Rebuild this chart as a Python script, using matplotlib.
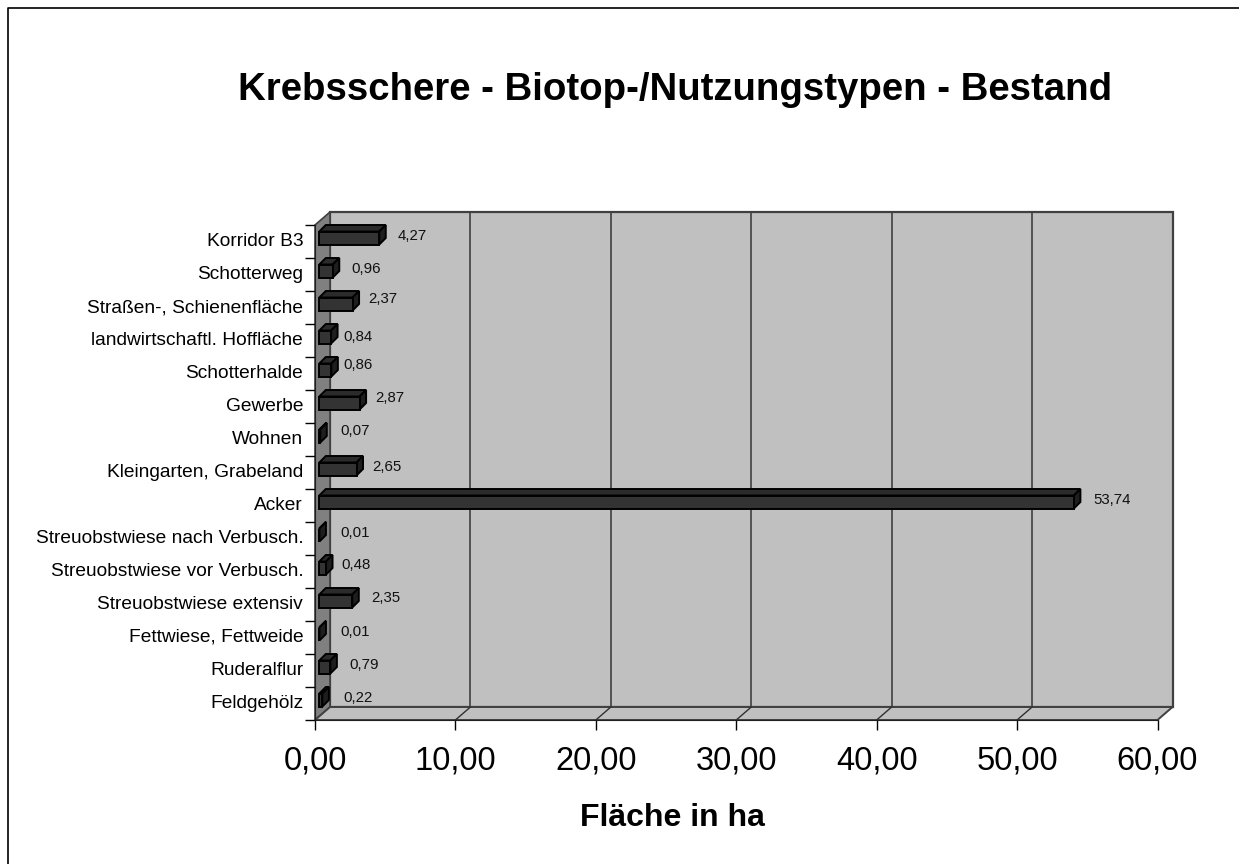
import matplotlib
matplotlib.use("Agg")
import matplotlib.pyplot as plt
import numpy as np
from matplotlib.patches import Polygon
from matplotlib.transforms import ScaledTranslation

plt.rcParams['font.family'] = ['Liberation Sans', 'DejaVu Sans']

categories = [
    "Korridor B3", "Schotterweg", "Straßen-, Schienenfläche",
    "landwirtschaftl. Hoffläche", "Schotterhalde", "Gewerbe", "Wohnen",
    "Kleingarten, Grabeland", "Acker", "Streuobstwiese nach Verbusch.",
    "Streuobstwiese vor Verbusch.", "Streuobstwiese extensiv",
    "Fettwiese, Fettweide", "Ruderalflur", "Feldgehölz",
]
flaeche = [4.27, 0.96, 2.37, 0.84, 0.86, 2.87, 0.07, 2.65, 53.74, 0.01, 0.48, 2.35, 0.01, 0.79, 0.22]
x_ticks = [0, 10, 20, 30, 40, 50, 60]

title = "Krebsschere - Biotop-/Nutzungstypen - Bestand"
x_label = "Fläche in ha"

# label nudges in pixels, the original labels sit unevenly
label_dx = [12, 12, 9, 5.5, 5.5, 9, 14, 9, 13, 14, 8.5, 12, 14, 12, 14]
label_dy = [-6.5, -6.5, -9.5, -4.5, -9.5, -9.5, -9.5, -6.5, -6.5, -6.5, -7.5, -7.5, -6.5, -6.5, -6.5]

W, H = 1239, 864
LEFT, RIGHT, TOP, BOTTOM = 315, 1157.5, 225, 720
DEPTH_X, DEPTH_Y = 15, 13
BAR_DEPTH = 6.5

fig = plt.figure(figsize=(W / 100, H / 100), dpi=100)
ax = fig.add_axes([LEFT / W, 1 - BOTTOM / H, (RIGHT - LEFT) / W, (BOTTOM - TOP) / H])
ax.set_xlim(0, 60)
ax.set_ylim(len(categories), 0)

px_x = 60 / (RIGHT - LEFT)
px_y = len(categories) / (BOTTOM - TOP)
dx_wall = DEPTH_X * px_x
dy_wall = DEPTH_Y * px_y
n = len(categories)


def add_poly(pts, face, edge='#202020', lw=1.0, z=1):
    ax.add_patch(Polygon(pts, closed=True, facecolor=face, edgecolor=edge,
                         linewidth=lw, zorder=z, clip_on=False, joinstyle='miter'))


# walls and floor
add_poly([(dx_wall, -dy_wall), (60 + dx_wall, -dy_wall), (60 + dx_wall, n - dy_wall), (dx_wall, n - dy_wall)],
         '#c0c0c0', edge='#404040', lw=1.6)
add_poly([(0, 0), (dx_wall, -dy_wall), (dx_wall, n - dy_wall), (0, n)], '#808080', edge='#404040', lw=1.2)
add_poly([(0, n), (dx_wall, n - dy_wall), (60 + dx_wall, n - dy_wall), (60, n)], '#c0c0c0', edge='#404040', lw=1.4)

# gridlines on back wall and floor
for t in x_ticks[1:-1]:
    ax.plot([t + dx_wall, t + dx_wall], [-dy_wall, n - dy_wall], color='#404040', lw=1.2, zorder=2, clip_on=False)
    ax.plot([t, t + dx_wall], [n, n - dy_wall], color='#303030', lw=1.0, zorder=2, clip_on=False)

# bars
bar_x0 = 4.3 * px_x
bar_dx = BAR_DEPTH * px_x
bar_dy = BAR_DEPTH * px_y
bar_h = 13 * px_y
for i, v in enumerate(flaeche):
    top = i + 6.5 * px_y
    bot = top + bar_h
    x1 = bar_x0 + v
    add_poly([(bar_x0, top), (bar_x0 + bar_dx, top - bar_dy), (x1 + bar_dx, top - bar_dy), (x1, top)],
             '#2b2b2b', edge='black', lw=1.4, z=3)
    add_poly([(x1, top), (x1 + bar_dx, top - bar_dy), (x1 + bar_dx, bot - bar_dy), (x1, bot)],
             '#1e1e1e', edge='black', lw=1.4, z=3)
    add_poly([(bar_x0, top), (x1, top), (x1, bot), (bar_x0, bot)], '#333333', edge='black', lw=1.4, z=4)
    ax.annotate(f"{v:.2f}".replace(".", ","), xy=(x1 + bar_dx, i + 0.5),
                xytext=(label_dx[i] * 0.72, -label_dy[i] * 0.72 - 0.7), textcoords='offset points',
                ha='left', va='center', fontsize=10.8, color='#111111', zorder=5)

# axes
for side in ['top', 'right']:
    ax.spines[side].set_visible(False)
for side in ['left', 'bottom']:
    ax.spines[side].set_color('#202020')
    ax.spines[side].set_zorder(2.5)
ax.patch.set_visible(False)

ax.set_xticks(x_ticks)
ax.set_xticklabels([f"{t:.2f}".replace(".", ",") for t in x_ticks], fontsize=23.5)
ax.tick_params(axis='x', length=7.2, width=1, color='black', pad=11)

ax.set_yticks(np.arange(n) + 0.5)
ax.set_yticklabels(categories, fontsize=13.75)
ax.set_yticks(np.arange(n + 1), minor=True)
ax.tick_params(axis='y', which='major', length=0, pad=8.5)
ax.tick_params(axis='y', which='minor', length=7.2, width=1, color='black')
nudge = ScaledTranslation(0, 2 / 100, fig.dpi_scale_trans)
for lab in ax.get_yticklabels():
    lab.set_transform(lab.get_transform() + nudge)

ax.set_xlabel(x_label, fontsize=23, fontweight='bold', labelpad=19, x=(672 - LEFT) / (RIGHT - LEFT))
fig.text(675 / W, 1 - 90 / H, title, fontsize=27.6, fontweight='bold', ha='center', va='center')

# page frame, only left and top survive in the crop
fig.add_artist(plt.Line2D([7.5 / W, 7.5 / W, 1], [0, 1 - 7.5 / H, 1 - 7.5 / H],
                          color='black', lw=1.2, transform=fig.transFigure))

fig.savefig("out.png", dpi=100)
